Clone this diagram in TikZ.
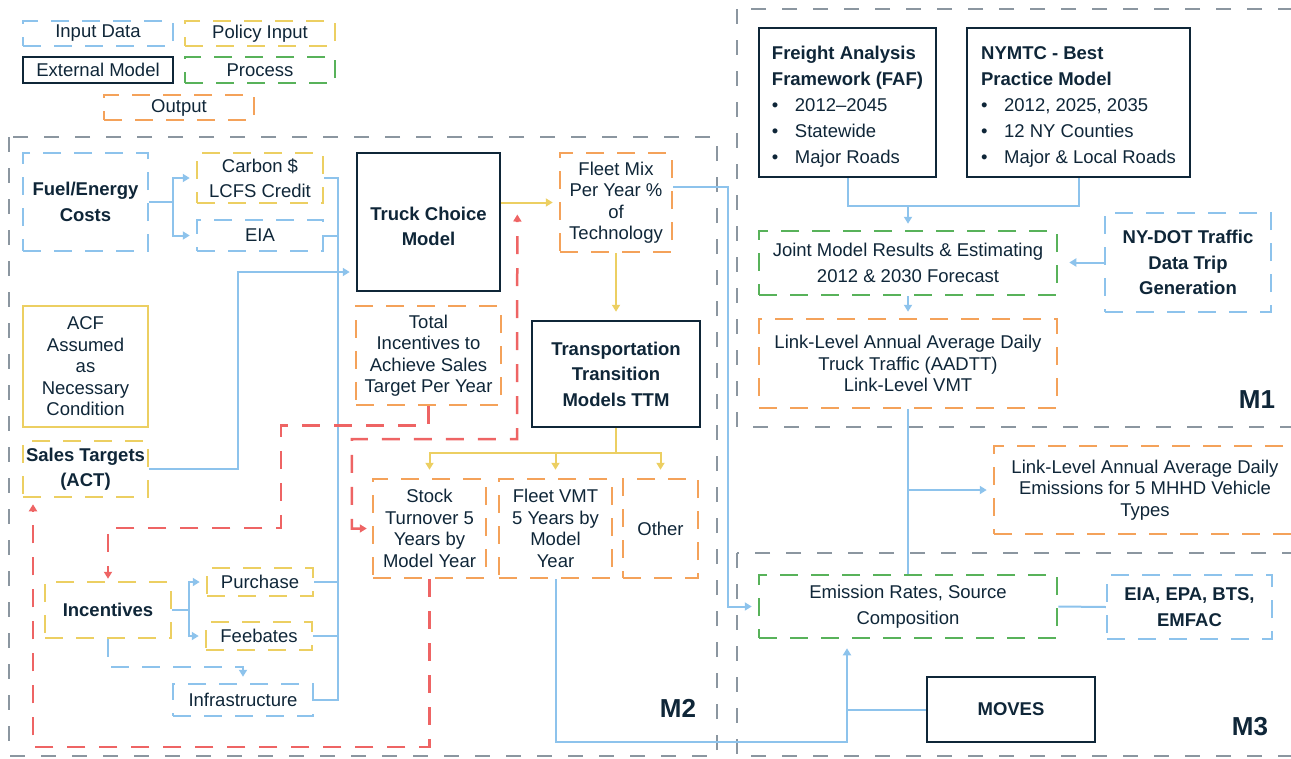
\documentclass[tikz,border=0pt]{standalone}
\usepackage{fontspec}
\setmainfont{Liberation Sans}
\usetikzlibrary{arrows.meta}

\definecolor{ink}{HTML}{0F2638}
\definecolor{cblue}{HTML}{8DC3EC}
\definecolor{cyellow}{HTML}{ECCF62}
\definecolor{cgreen}{HTML}{58B25A}
\definecolor{corange}{HTML}{F4A25A}
\definecolor{cred}{HTML}{EE6464}
\definecolor{cgrey}{HTML}{8B96A0}

\newcommand\tightlines{\fontsize{18.5}{21.5}\selectfont}
\newcommand\looselines{\fontsize{18.5}{25.5}\selectfont}
\newcommand\listlines{\fontsize{18.5}{26.2}\selectfont}
\newcommand\dotitem{\makebox[23pt][l]{\textbullet}}
\newcommand\headstrut{\rule{0pt}{22pt}}

\begin{document}
\begin{tikzpicture}
[ x=1pt, y=-1pt, text=ink
, box/.style={rectangle, inner sep=0pt, align=center, line width=2.5pt, font=\tightlines}
, wh/.style 2 args={minimum width=#1pt, minimum height=#2pt}
, boxdash/.style={dash pattern=on 18pt off 13pt}
, datbox/.style={box, draw=cblue, boxdash}
, polbox/.style={box, draw=cyellow, boxdash}
, probox/.style={box, draw=cgreen, boxdash}
, outbox/.style={box, draw=corange, boxdash}
, extbox/.style={box, draw=ink, font=\looselines\bfseries}
, loose/.style={font=\looselines}
, strong/.style={font=\looselines\bfseries}
, listbox/.style={extbox, align=left, font=\listlines}
, mframe/.style={draw=cgrey, line width=2.5pt, dash pattern=on 15pt off 16pt}
, mtag/.style={font=\fontsize{26}{30}\selectfont\bfseries}
, link/.style={draw=cblue, line width=2pt}
, flow/.style={draw=cyellow, line width=2pt}
, feedback/.style={draw=cred, line width=2.5pt, dash pattern=on 18pt off 14pt}
, arr/.style={-{Triangle[length=7pt,width=8pt]}, shorten >=6pt}
]
\useasboundingbox (0,0) rectangle (1291,758);

% Legend:
\node (inleg) [datbox, wh={150}{25}] at (98,33.5) {Input Data};
\node (poleg) [polbox, wh={150}{25}] at (260,33.5) {Policy Input};
\node (exleg) [box, draw=ink, wh={150}{26}] at (98,70) {External Model};
\node (prleg) [probox, wh={150}{26}] at (260,70) {Process};
\node (ouleg) [outbox, wh={150}{25}] at (179,107.5) {Output};

% Module frames:
\draw [mframe] (9,137) rectangle (717,756);
\draw [mframe] (737,9) rectangle (1310,427);
\draw [mframe] (737,553) rectangle (1310,756);

% M2, vehicle choice:
\node (fuel) [datbox, wh={125}{98}, strong] at (85.5,202) {Fuel/Energy\\Costs};
\node (carbon) [polbox, wh={126}{50}, loose] at (260,178) {Carbon \$\\LCFS Credit};
\node (eia) [datbox, wh={126}{31}] at (260,235.5) {EIA};
\node (truck) [extbox, wh={143}{138}] at (428.5,222) {\headstrut Truck Choice\\Model};
\node (fleetmix) [outbox, wh={112}{99}] at (616,202.5) {Fleet Mix\\Per Year \%\\of\\Technology};
\node (totinc) [outbox, wh={145}{99}] at (428.5,355.5) {Total\\Incentives to\\Achieve Sales\\Target Per Year};
\node (ttm) [extbox, wh={168}{106}] at (616,374) {Transportation\\Transition\\Models TTM};
\node (acf) [box, draw=cyellow, wh={125}{121}] at (85.5,366.5) {ACF\\Assumed\\as\\Necessary\\Condition};
\node (sales) [polbox, wh={125}{56}, strong] at (85.5,469) {Sales Targets\\(ACT)};
\node (stock) [outbox, wh={113}{99}] at (429.5,528.5) {Stock\\Turnover 5\\Years by\\Model Year};
\node (fleetvmt) [outbox, wh={113}{99}] at (555.5,528.5) {Fleet VMT\\5 Years by\\Model\\Year};
\node (other) [outbox, wh={75}{99}] at (660.5,528.5) {Other};
\node (incent) [polbox, wh={126}{56}, strong] at (108,610) {Incentives};
\node (purchase) [polbox, wh={106}{28}] at (260,582) {Purchase};
\node (feebates) [polbox, wh={106}{28}] at (259,636) {Feebates};
\node (infra) [datbox, wh={140}{32}] at (243,700) {Infrastructure};
\node (m2) [mtag] at (678,708) {M2};

% M1, truck traffic:
\node (faf) [listbox, wh={177}{149}] at (847.5,102.5)
  {\headstrut\textbf{Freight Analysis}\\\textbf{Framework (FAF)}\\\dotitem 2012--2045\\\dotitem Statewide\\\dotitem Major Roads};
\node (nymtc) [listbox, wh={223}{149}] at (1078.5,102.5)
  {\headstrut\textbf{NYMTC - Best}\\\textbf{Practice Model}\\\dotitem 2012, 2025, 2035\\\dotitem 12 NY Counties\\\dotitem Major \& Local Roads};
\node (joint) [probox, wh={298}{64}, loose] at (908,263) {Joint Model Results \& Estimating\\2012 \& 2030 Forecast};
\node (nydot) [datbox, wh={166}{99}, strong] at (1188,262.5) {NY-DOT Traffic\\Data Trip\\Generation};
\node (aadtt) [outbox, wh={298}{89}] at (908,363.5) {Link-Level Annual Average Daily\\Truck Traffic (AADTT)\\Link-Level VMT};
\node (m1) [mtag] at (1257,400) {M1};
\node (emis) [outbox, wh={302}{88}] at (1145,490) {Link-Level Annual Average Daily\\Emissions for 5 MHHD Vehicle\\Types};

% M3, emissions:
\node (emrates) [probox, wh={298}{63}, loose] at (908,606.5) {Emission Rates, Source\\Composition};
\node (eiaepa) [datbox, wh={165}{64}, strong] at (1189.5,607) {EIA, EPA, BTS,\\EMFAC};
\node (moves) [extbox, wh={168}{65}] at (1011,709.5) {MOVES};
\node (m3) [mtag] at (1250,727) {M3};

% Inputs to the truck choice model
\draw [link, arr] (fuel.east) -- ++(24,0) |- (carbon.west);
\draw [link, arr] (fuel.east) -- ++(24,0) |- (eia.west);
\draw [link, arr] (incent.east) -- ++(17,0) |- (purchase.west);
\draw [link, arr] (incent.east) -- ++(17,0) |- (feebates.west);
\draw [link, boxdash, arr] (incent.south) -- ++(0,28) -| (infra.north);
\coordinate (bus) at (338,272);
\coordinate (salesup) at (238,272);
\draw [link] (carbon.east) -| (bus);
\draw [link] (eia.east) -| (bus);
\draw [link] (purchase.east) -| (bus);
\draw [link] (feebates.east) -| (bus);
\draw [link] (infra.east) -| (bus);
\draw [link, arr] (sales.east) -| (salesup) -- (truck.west |- salesup);

% Fleet mix and turnover
\draw [flow, arr] (truck.east |- fleetmix) -- coordinate[pos=0.28] (tfm) (fleetmix.west);
\draw [flow, arr, shorten >=8pt] (fleetmix.south) -- (ttm.north);
\draw [flow] (ttm.south) -- ++(0,25) coordinate (split);
\draw [flow, arr, shorten >=8pt] (split) -| (stock.north);
\draw [flow, arr, shorten >=8pt] (split) -| (fleetvmt.north);
\draw [flow, arr, shorten >=8pt] (split) -| (other.north);

% Feedback loops
\coordinate (rbend) at (281,528);
\coordinate (rtop) at (517,439);
\coordinate (rfoot) at (33,747);
\draw [feedback, arr, shorten >=2pt] (totinc.south) -- ++(0,19) -| (rbend) -| (incent.north);
\draw [feedback, {Triangle[length=7pt,width=8pt]}-{Triangle[length=7pt,width=8pt]}, shorten <=5pt, shorten >=12pt]
  (stock.west) -- ++(-20,0) |- (rtop) -- (tfm);
\draw [feedback, arr] (stock.south) |- (rfoot) -- (rfoot |- sales.south);

% Traffic volumes
\coordinate (fjoin) at (908,206);
\draw [link] (faf.south) |- (fjoin) -| (nymtc.south);
\draw [link, arr] (fjoin) -- (joint.north);
\draw [link, arr, shorten >=11pt] (nydot.west) -- (nydot.west -| joint.east);
\draw [link, arr] (joint.south) -- (aadtt.north);

% Emission rates
\coordinate (vmtin) at (847,742);
\draw [link, arr] ([yshift=16pt]fleetmix.east) -- ++(55,0) |- (emrates.west);
\draw [link, arr, shorten >=9pt] (fleetvmt.south) |- (vmtin) -- (vmtin |- emrates.south);
\draw [link] (moves.west) -- (moves.west -| vmtin);
\draw [link] (aadtt.south) -- (emrates.north);
\draw [link, arr] (aadtt.south |- emis.west) -- (emis.west);
\draw [link] (emrates.east) -- (eiaepa.west);
\end{tikzpicture}
\end{document}
